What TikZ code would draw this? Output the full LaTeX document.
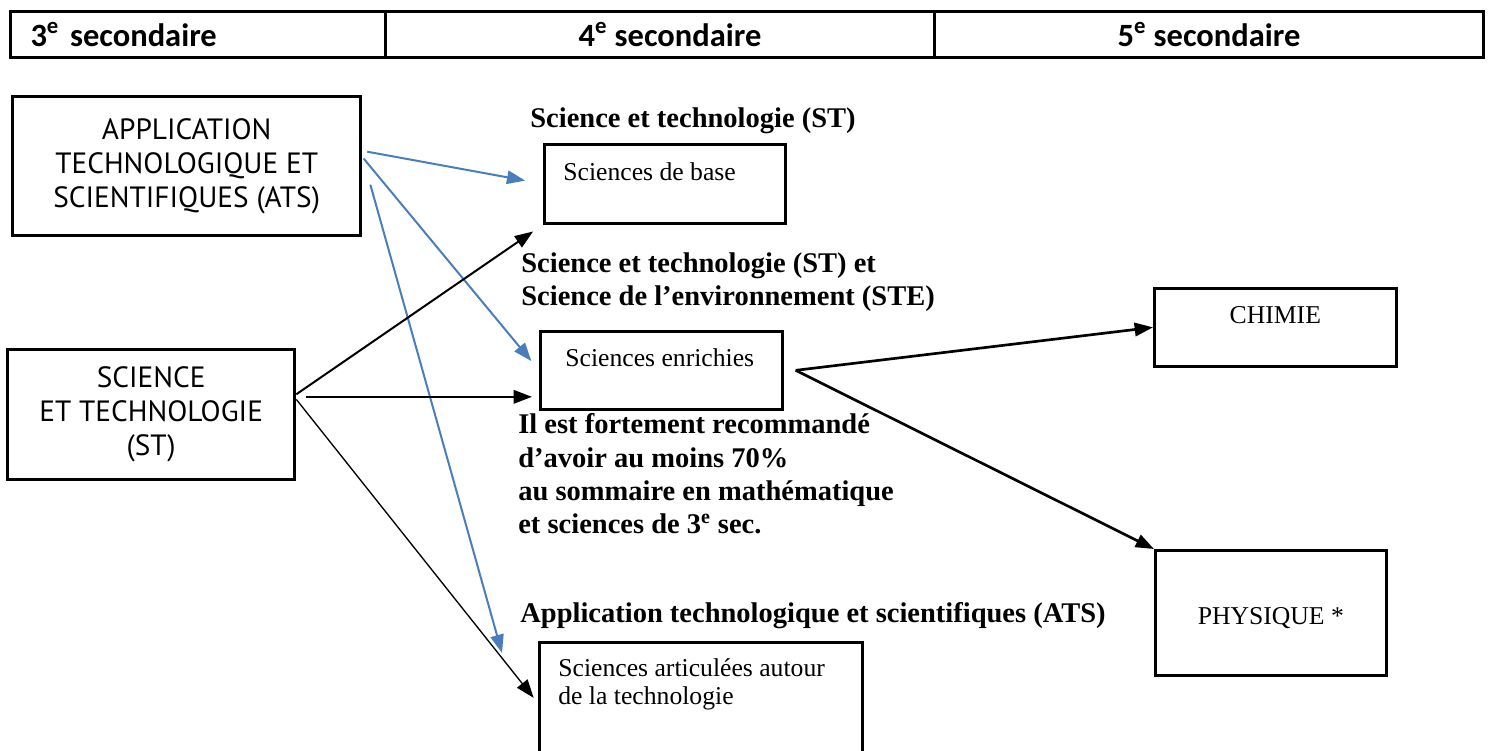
\documentclass[tikz,border=0pt]{standalone}
\usepackage{fontspec}
\setmainfont{Liberation Serif}
\newfontfamily\hdfont{Carlito}
\newfontfamily\boxfont{PT Sans}
\usetikzlibrary{positioning,arrows.meta}
\newlength\pu
\setlength\pu{0.6pt}
\definecolor{arrowblue}{RGB}{74,126,187}
\tikzstyle{cell} = [draw, rectangle, line width=1.8pt, minimum height=46\pu, anchor=north west, inner sep=0pt, font=\hdfont\bfseries\fontsize{19.5}{22}\selectfont]
\tikzstyle{block} = [draw, rectangle, line width=1.6pt, anchor=north west, inner sep=0pt]
\tikzstyle{bigtext} = [line width=2pt, align=center, font=\boxfont\fontsize{17.6}{20.4}\selectfont]
\tikzstyle{heading} = [anchor=west, align=left, inner sep=0pt, font=\bfseries\fontsize{17.1}{20}\selectfont]
\tikzstyle{inner} = [anchor=west, align=left, inner sep=0pt, font=\fontsize{15.4}{16.8}\selectfont]
\tikzstyle{blue line} = [arrowblue, line width=1.2pt, -{Triangle[length=11pt,width=8pt]}]
\tikzstyle{black line} = [black, -{Triangle[length=11pt,width=8pt]}]
\begin{document}
\begin{tikzpicture}[x=0.6pt, y=-0.6pt]
\useasboundingbox (0,0) rectangle (1491,751);

% header row
\node[cell, minimum width=375\pu, text width=335\pu, align=left] (sec3) at (9,10) {3\textsuperscript{e} secondaire};
\node[cell, minimum width=549\pu] (sec4) at (384,10) {\hspace{20\pu}4\textsuperscript{e} secondaire};
\node[cell, minimum width=549\pu] (sec5) at (933,10) {5\textsuperscript{e} secondaire};

% 3e secondaire
\node[block, bigtext, minimum width=348\pu, minimum height=139\pu] (ats) at (11,95) {APPLICATION\\TECHNOLOGIQUE ET\\SCIENTIFIQUES (ATS)};
\node[block, bigtext, minimum width=287\pu, minimum height=130\pu] (st) at (6,348) {SCIENCE\\ET TECHNOLOGIE\\(ST)};

% 4e secondaire
\node[heading] (stlabel) at (530,121) {Science et technologie (ST)};
\node[block, minimum width=241\pu, minimum height=79\pu] (base) at (543,143) {};
\node[inner] (basetxt) at ([shift={(20,29)}]base.north west) {Sciences de base};

\node[heading] (stelabel) at (521,282) {Science et technologie (ST) et\\Science de l’environnement (STE)};
\node[block, minimum width=242\pu, minimum height=78\pu] (enr) at (539,330) {};
\node[inner] (enrtxt) at ([shift={(26,28)}]enr.north west) {Sciences enrichies};
\node[heading] (advice) at (518,474) {Il est fortement recommandé\\d’avoir au moins 70\%\\au sommaire en mathématique\\et sciences de 3\textsuperscript{e} sec.};

\node[heading] (atslabel) at (520,616) {Application technologique et scientifiques (ATS)};
\node[block, minimum width=323\pu, minimum height=122\pu] (art) at (538,641) {};
\node[inner] (arttxt) at ([shift={(20,43)}]art.north west) {Sciences articulées autour\\de la technologie};

% 5e secondaire
\node[block, minimum width=242\pu, minimum height=78\pu] (chim) at (1153,287) {};
\node[inner, anchor=center] (chimtxt) at ([shift={(0,28)}]chim.north) {CHIMIE};
\node[block, minimum width=231\pu, minimum height=125\pu] (phys) at (1154,549) {};
\node[inner, anchor=center] (phystxt) at ([shift={(0,69)}]phys.north) {PHYSIQUE *};
\coordinate[right=12\pu of enr] (fork);

% arrows
\draw[blue line, shorten <=5\pu, shorten >=18\pu] (ats.5) -- (base.west);
\draw[blue line, shorten <=2\pu, shorten >=12\pu] (ats.3) -- (enr.west);
\draw[blue line] ([xshift=8\pu]ats.-6) -- ([shift={(-36,12)}]art.north west);
\draw[black line, line width=1.2pt, shorten >=12\pu] (st.8) -- (base.south west);
\draw[black line, line width=1.4pt, shorten <=10\pu, shorten >=7\pu] (st.7) -- (enr.west |- st.7);
\draw[black line, line width=0.8pt, shorten >=7\pu] (st.6) -- (art.west);
\draw[black line, line width=1.6pt] (fork) -- (chim.west);
\draw[black line, line width=1.6pt] (fork) -- (phys.north west);
\end{tikzpicture}
\end{document}
